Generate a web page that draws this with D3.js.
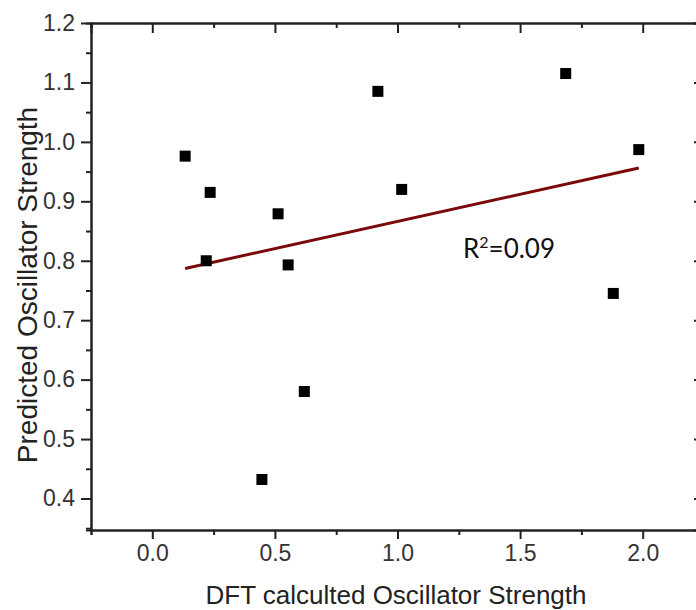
<!DOCTYPE html>
<html>
<head>
<meta charset="utf-8">
<script src="https://cdn.jsdelivr.net/npm/d3@7"></script>
<style>
  html, body { margin: 0; padding: 0; background: #fff; }
  svg { display: block; }
  svg text { font-family: "Liberation Sans", Arial, sans-serif; }
</style>
</head>
<body>
<div id="chart"></div>
<script>
// DFT vs predicted oscillator strength
const dftStrength = [0.134, 0.236, 0.220, 0.513, 0.554, 0.620, 0.447, 0.920, 1.017, 1.686, 1.984, 1.880];
const predictedStrength = [0.976, 0.915, 0.800, 0.879, 0.793, 0.580, 0.432, 1.085, 0.920, 1.115, 0.987, 0.745];
const fitX = [0.134, 1.984];
const fitY = [0.787, 0.956];
const xTicks = [0.0, 0.5, 1.0, 1.5, 2.0];
const xMinorTicks = [-0.25, 0.25, 0.75, 1.25, 1.75, 2.25];
const yTicks = [0.4, 0.5, 0.6, 0.7, 0.8, 0.9, 1.0, 1.1, 1.2];
const yMinorTicks = [0.35, 0.45, 0.55, 0.65, 0.75, 0.85, 0.95, 1.05, 1.15];
const r2Label = '0.09';

(function () {
  const W = 696, H = 610;
  const margin = { top: 23, right: -8, bottom: 80, left: 91 };
  const w = W - margin.left - margin.right;
  const h = H - margin.top - margin.bottom;

  const svg = d3.select('#chart').append('svg')
    .attr('width', W)
    .attr('height', H);

  const g = svg.append('g').attr('transform', `translate(${margin.left},${margin.top})`);

  const x = d3.scaleLinear().domain([-0.25, 2.25]).range([0, w]);
  const y = d3.scaleLinear().domain([0.347, 1.2]).range([h, 0]);

  const axisColor = '#222';
  const labelColor = '#333';

  function styleAxis(sel) {
    sel.attr('font-family', null).attr('font-size', null);
    sel.select('.domain').attr('stroke', axisColor).attr('stroke-width', 2);
    sel.selectAll('.tick line').attr('stroke', axisColor).attr('stroke-width', 2);
  }

  // major ticks with labels
  g.append('g')
    .attr('transform', `translate(0,${h})`)
    .call(d3.axisBottom(x).tickValues(xTicks).tickSizeInner(9).tickSizeOuter(0).tickPadding(6).tickFormat(d3.format('.1f')))
    .call(styleAxis)
    .selectAll('text')
    .attr('fill', labelColor)
    .style('font-size', '23px');

  g.append('g')
    .call(d3.axisLeft(y).tickValues(yTicks).tickSizeInner(10).tickSizeOuter(0).tickPadding(6).tickFormat(d3.format('.1f')))
    .call(styleAxis)
    .selectAll('text')
    .attr('fill', labelColor)
    .style('font-size', '23px');

  // minor ticks
  g.append('g')
    .attr('transform', `translate(0,${h})`)
    .call(d3.axisBottom(x).tickValues(xMinorTicks).tickSize(5).tickFormat(''))
    .call(styleAxis);

  g.append('g')
    .call(d3.axisLeft(y).tickValues(yMinorTicks).tickSize(5).tickFormat(''))
    .call(styleAxis);

  // top and right frame, ticks pointing inward
  g.append('g')
    .call(d3.axisBottom(x).tickValues(xTicks).tickSize(10).tickFormat(''))
    .call(styleAxis);
  g.append('g')
    .call(d3.axisBottom(x).tickValues(xMinorTicks).tickSize(5).tickFormat(''))
    .call(styleAxis);

  g.append('g')
    .attr('transform', `translate(${w},0)`)
    .call(d3.axisLeft(y).tickValues(yTicks).tickSize(10).tickFormat(''))
    .call(styleAxis);

  // fit line
  g.append('line')
    .attr('x1', x(fitX[0]))
    .attr('y1', y(fitY[0]))
    .attr('x2', x(fitX[1]))
    .attr('y2', y(fitY[1]))
    .attr('stroke', '#7a0a0a')
    .attr('stroke-width', 3);

  // points
  const pts = dftStrength.map((d, i) => ({ x: d, y: predictedStrength[i] }));
  const s = 11;
  g.selectAll('.pt')
    .data(pts)
    .join('rect')
    .attr('class', 'pt')
    .attr('x', d => x(d.x) - s / 2)
    .attr('y', d => y(d.y) - s / 2)
    .attr('width', s)
    .attr('height', s)
    .attr('fill', '#000');

  // R² annotation
  const r2 = svg.append('text')
    .attr('x', 463)
    .attr('y', 258)
    .attr('fill', '#111')
    .style('font-family', 'Lato, "Open Sans", sans-serif')
    .style('font-size', '26px');
  r2.append('tspan').text('R');
  r2.append('tspan').attr('dy', -10).style('font-size', '16px').text('2');
  r2.append('tspan').attr('dy', 10).text('=' + r2Label);

  // axis titles
  svg.append('text')
    .attr('x', 396)
    .attr('y', 604)
    .attr('text-anchor', 'middle')
    .attr('fill', '#222')
    .style('font-size', '26px')
    .text('DFT calculted Oscillator Strength');

  svg.append('text')
    .attr('transform', `translate(37,${285}) rotate(-90)`)
    .attr('text-anchor', 'middle')
    .attr('fill', '#222')
    .style('font-size', '28px')
    .text('Predicted Oscillator Strength');
})();
</script>
</body>
</html>
